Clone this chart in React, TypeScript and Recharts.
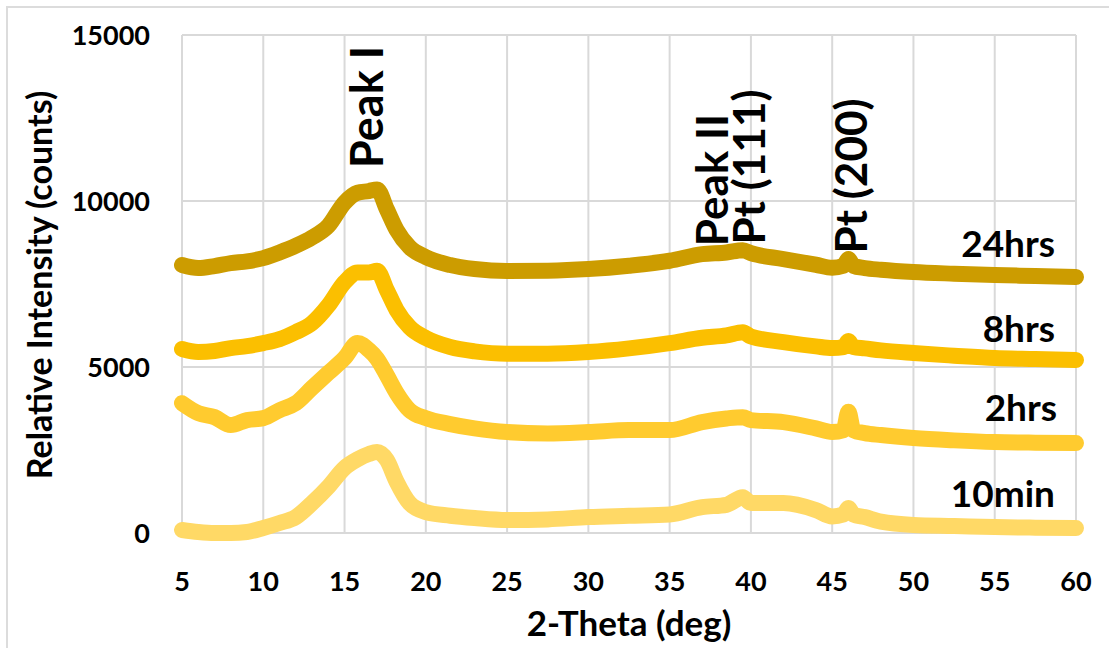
import { LineChart, Line, XAxis, YAxis, CartesianGrid } from 'recharts'

// 2-theta positions (deg) shared by all scans
const theta = [
  5, 6, 7, 8, 9, 10, 11, 12, 13, 14, 15, 15.8, 16.5, 17, 17.6, 18.2, 19, 20, 21.5, 23, 25, 27.5, 30,
  32.5, 35, 37, 38.5, 39.5, 40, 42, 44, 45, 45.7, 46, 46.3, 47, 48, 50, 52.5, 55, 57.5, 60,
]

const min10 = [
  90, 30, 0, 0, 30, 150, 300, 480, 900, 1390, 1960, 2220, 2380, 2440, 2200, 1550, 900, 630, 520, 450,
  390, 410, 480, 520, 560, 780, 850, 1080, 900, 900, 690, 500, 560, 750, 560, 480, 340, 240, 210, 180,
  160, 150,
]

const hrs2 = [
  3910, 3610, 3490, 3250, 3400, 3460, 3700, 3910, 4370, 4820, 5270, 5720, 5510, 5250, 4750, 4220, 3700,
  3460, 3280, 3150, 3040, 3000, 3040, 3100, 3100, 3340, 3450, 3490, 3400, 3340, 3150, 3040, 3100, 3650,
  3100, 3010, 2950, 2860, 2790, 2740, 2720, 2710,
]

const hrs8 = [
  5540, 5450, 5480, 5570, 5630, 5720, 5840, 6050, 6320, 6850, 7550, 7850, 7850, 7900, 7320, 6720, 6200,
  5870, 5600, 5470, 5400, 5400, 5450, 5560, 5720, 5880, 5950, 6050, 5920, 5750, 5620, 5570, 5600, 5780,
  5600, 5560, 5500, 5420, 5340, 5270, 5240, 5210,
]

const hrs24 = [
  8070, 7980, 8040, 8130, 8180, 8280, 8450, 8650, 8900, 9250, 9950, 10250, 10300, 10350, 9750, 9130,
  8610, 8310, 8070, 7950, 7890, 7900, 7950, 8050, 8200, 8400, 8450, 8520, 8430, 8250, 8080, 7990, 8050,
  8250, 8050, 7980, 7930, 7860, 7810, 7770, 7740, 7710,
]

const xTicks = [5, 10, 15, 20, 25, 30, 35, 40, 45, 50, 55, 60]
const yTicks = [0, 5000, 10000, 15000]

const data = theta.map((t, i) => ({
  theta: t,
  min10: min10[i],
  hrs2: hrs2[i],
  hrs8: hrs8[i],
  hrs24: hrs24[i],
}))

const FONT = 'Lato, "Open Sans", sans-serif'

function XTick({ x, y, payload }: any) {
  return (
    <text x={x} y={y + 58} textAnchor="middle" fontSize={27} fontWeight={700} fill="#000" fontFamily={FONT}>
      {payload.value}
    </text>
  )
}

function YTick({ x, y, payload }: any) {
  return (
    <text x={x - 32} y={y} dy="0.36em" textAnchor="end" fontSize={27} fontWeight={700} fill="#000" fontFamily={FONT}>
      {payload.value}
    </text>
  )
}

const lineProps = {
  type: 'monotone' as const,
  strokeWidth: 16,
  dot: false,
  strokeLinejoin: 'round' as const,
  strokeLinecap: 'round' as const,
  isAnimationActive: false,
}

export default function App() {
  return (
    <div style={{ position: 'absolute', left: 0, top: 0, width: 1109, height: 648, background: '#fff', overflow: 'hidden' }}>
      <div
        style={{
          position: 'absolute',
          left: 6,
          top: 6,
          width: 1120,
          height: 660,
          border: '2px solid #dcdcdc',
        }}
      />
      <LineChart width={1109} height={648} data={data} margin={{ top: 35, right: 33, left: 82, bottom: 45 }}>
        <CartesianGrid stroke="#d9d9d9" strokeWidth={2} />
        <XAxis
          dataKey="theta"
          type="number"
          domain={[5, 60]}
          ticks={xTicks}
          axisLine={false}
          tickLine={false}
          tickSize={0}
          tickMargin={0}
          height={70}
          tick={<XTick />}
        />
        <YAxis
          type="number"
          domain={[0, 15000]}
          ticks={yTicks}
          axisLine={false}
          tickLine={false}
          tickSize={0}
          tickMargin={0}
          width={100}
          tick={<YTick />}
        />
        <Line dataKey="min10" stroke="#FFD966" {...lineProps} />
        <Line dataKey="hrs2" stroke="#FFCB2F" {...lineProps} />
        <Line dataKey="hrs8" stroke="#FBBF00" {...lineProps} />
        <Line dataKey="hrs24" stroke="#CC9C00" {...lineProps} />
      </LineChart>
      <svg
        width={1109}
        height={648}
        style={{ position: 'absolute', left: 0, top: 0, pointerEvents: 'none' }}
        fontFamily={FONT}
        fontWeight={700}
        fill="#000"
      >
        <text x={629} y={636} textAnchor="middle" fontSize={35}>2-Theta (deg)</text>
        <text transform="translate(52,285) rotate(-90)" textAnchor="middle" fontSize={34}>
          Relative Intensity (counts)
        </text>
        <text transform="translate(383,107) rotate(-90)" textAnchor="middle" fontSize={45}>Peak I</text>
        <text transform="translate(728,180) rotate(-90)" textAnchor="middle" fontSize={44}>Peak II</text>
        <text transform="translate(765,167) rotate(-90)" textAnchor="middle" fontSize={44}>Pt (111)</text>
        <text transform="translate(867,176) rotate(-90)" textAnchor="middle" fontSize={44}>Pt (200)</text>
        <text x={1055} y={257} textAnchor="end" fontSize={37}>24hrs</text>
        <text x={1055} y={342} textAnchor="end" fontSize={37}>8hrs</text>
        <text x={1057} y={421} textAnchor="end" fontSize={37}>2hrs</text>
        <text x={1055} y={507} textAnchor="end" fontSize={37}>10min</text>
      </svg>
    </div>
  )
}
